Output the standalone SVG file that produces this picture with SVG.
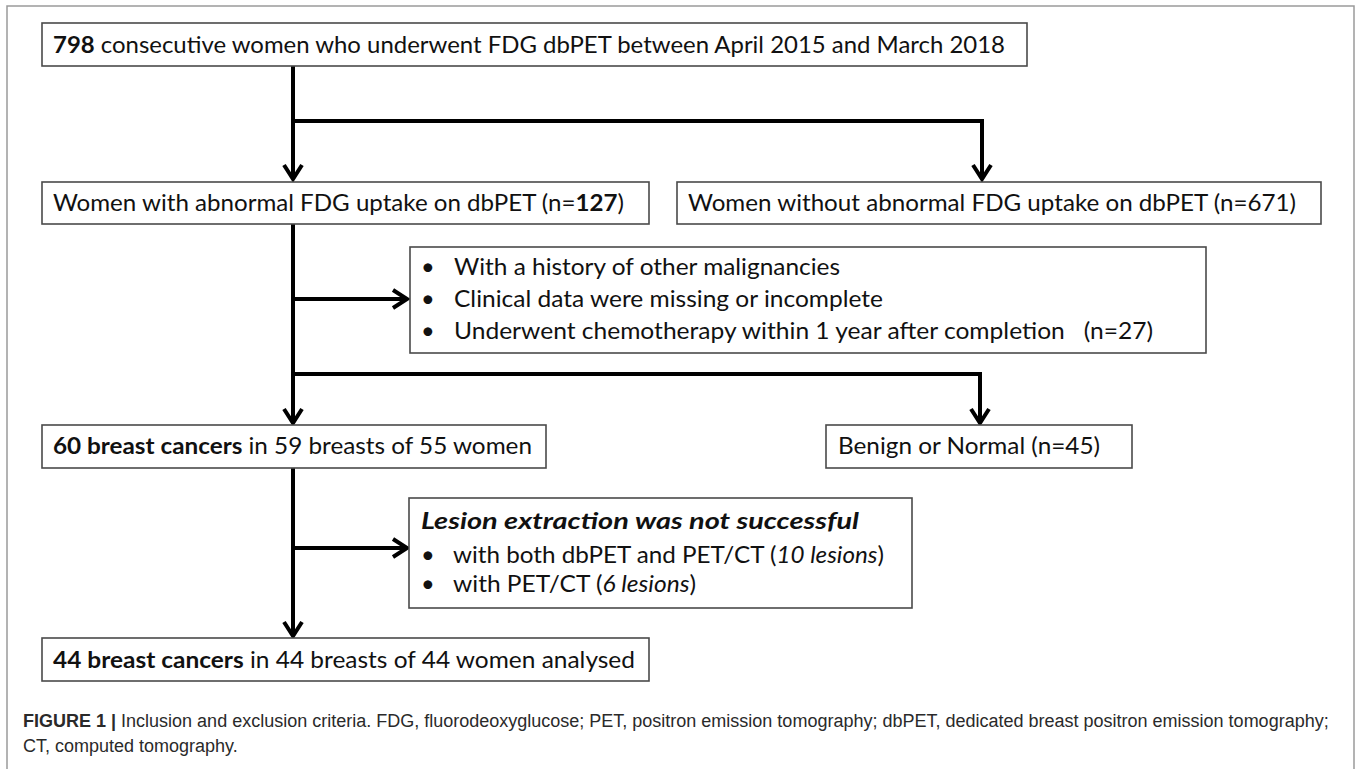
<svg xmlns="http://www.w3.org/2000/svg" width="1358" height="769" viewBox="0 0 1358 769">
<style>
.box{fill:#fff;stroke:#4a4a4a;stroke-width:1.6}
.t{font-family:Lato,"Open Sans","Liberation Sans",sans-serif;font-size:23.6px;fill:#111}
.b{font-weight:bold}
.bi{font-weight:bold;font-style:italic}
.i{font-style:italic}
.ln{fill:none;stroke:#000;stroke-width:4;stroke-linejoin:miter}
.ah{fill:none;stroke:#000;stroke-width:4;stroke-linejoin:miter;stroke-linecap:butt}
.cap{font-family:"Liberation Sans",Arial,sans-serif;font-size:18px;fill:#2a2a2a}
</style>
<rect width="1358" height="769" fill="#fff"/>
<path d="M7,775 V6 H1354 V775" fill="none" stroke="#9a9a9a" stroke-width="1.5"/>

<g id="connectors">
  <path class="ln" d="M293,66 V177"/>
  <path class="ln" d="M293,121 H982 V177"/>
  <path class="ah" d="M284,165 L293,179 L302,165"/>
  <path class="ah" d="M973,165 L982,179 L991,165"/>
  <path class="ln" d="M293,224 V421"/>
  <path class="ln" d="M293,299 H405"/>
  <path class="ah" d="M393,290 L407,299 L393,308"/>
  <path class="ln" d="M293,374 H980 V421"/>
  <path class="ah" d="M284,409 L293,423 L302,409"/>
  <path class="ah" d="M971,409 L980,423 L989,409"/>
  <path class="ln" d="M293,468 V634"/>
  <path class="ln" d="M293,548 H405"/>
  <path class="ah" d="M393,539 L407,548 L393,557"/>
  <path class="ah" d="M284,622 L293,636 L302,622"/>
</g>

<g id="n1">
  <rect class="box" x="42" y="23" width="985" height="43"/>
  <text class="t" x="53" y="53" textLength="952" lengthAdjust="spacingAndGlyphs"><tspan class="b">798</tspan> consecutive women who underwent FDG dbPET between April 2015 and March 2018</text>
</g>
<g id="n2">
  <rect class="box" x="42" y="182" width="607" height="42"/>
  <text class="t" x="53" y="211" textLength="571" lengthAdjust="spacingAndGlyphs">Women with abnormal FDG uptake on dbPET (n=<tspan class="b">127</tspan>)</text>
</g>
<g id="n3">
  <rect class="box" x="677" y="182" width="644" height="42"/>
  <text class="t" x="688" y="211" textLength="608" lengthAdjust="spacingAndGlyphs">Women without abnormal FDG uptake on dbPET (n=671)</text>
</g>
<g id="n4">
  <rect class="box" x="410" y="247" width="796" height="106"/>
  <text class="t" x="421" y="275">•</text>
  <text class="t" x="454" y="275" textLength="386" lengthAdjust="spacingAndGlyphs">With a history of other malignancies</text>
  <text class="t" x="421" y="307">•</text>
  <text class="t" x="454" y="307" textLength="429" lengthAdjust="spacingAndGlyphs">Clinical data were missing or incomplete</text>
  <text class="t" x="421" y="339">•</text>
  <text class="t" x="454" y="339" textLength="699" lengthAdjust="spacingAndGlyphs" xml:space="preserve">Underwent chemotherapy within 1 year after completion   (n=27)</text>
</g>
<g id="n5">
  <rect class="box" x="42" y="425" width="504" height="43"/>
  <text class="t" x="53" y="454" textLength="479" lengthAdjust="spacingAndGlyphs"><tspan class="b">60 breast cancers</tspan> in 59 breasts of 55 women</text>
</g>
<g id="n6">
  <rect class="box" x="826" y="425" width="306" height="43"/>
  <text class="t" x="838" y="454" textLength="262" lengthAdjust="spacingAndGlyphs">Benign or Normal (n=45)</text>
</g>
<g id="n7">
  <rect class="box" x="409" y="498" width="503" height="110"/>
  <text class="t bi" x="421" y="529" textLength="438" lengthAdjust="spacingAndGlyphs">Lesion extraction was not successful</text>
  <text class="t" x="421" y="563">•</text>
  <text class="t" x="453" y="563" textLength="431" lengthAdjust="spacingAndGlyphs">with both dbPET and PET/CT (<tspan class="i">10 lesions</tspan>)</text>
  <text class="t" x="421" y="592">•</text>
  <text class="t" x="453" y="592" textLength="243" lengthAdjust="spacingAndGlyphs">with PET/CT (<tspan class="i">6 lesions</tspan>)</text>
</g>
<g id="n8">
  <rect class="box" x="42" y="638" width="607" height="43"/>
  <text class="t" x="53" y="668" textLength="582" lengthAdjust="spacingAndGlyphs"><tspan class="b">44 breast cancers</tspan> in 44 breasts of 44 women analysed</text>
</g>

<g id="caption">
  <text class="cap" x="23" y="727"><tspan font-weight="bold">FIGURE 1 |</tspan> Inclusion and exclusion criteria. FDG, fluorodeoxyglucose; PET, positron emission tomography; dbPET, dedicated breast positron emission tomography;</text>
  <text class="cap" x="23" y="752">CT, computed tomography.</text>
</g>
</svg>
